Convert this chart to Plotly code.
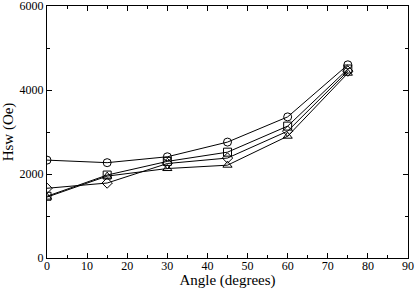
import plotly.graph_objects as go

angles = [0, 15, 30, 45, 60, 75]
circle_vals = [2330, 2270, 2410, 2760, 3360, 4600]
square_vals = [1470, 1975, 2300, 2520, 3140, 4500]
diamond_vals = [1660, 1785, 2250, 2380, 3020, 4450]
triangle_vals = [1450, 1950, 2130, 2210, 2900, 4400]

series = [
    ("circle", circle_vals, "circle-open"),
    ("square", square_vals, "square-open"),
    ("diamond", diamond_vals, "diamond-open"),
    ("triangle", triangle_vals, "triangle-up-open"),
]

fig = go.Figure()
for name, vals, sym in series:
    fig.add_trace(go.Scatter(
        x=angles, y=vals, mode="lines+markers", name=name,
        line=dict(color="black", width=1),
        marker=dict(symbol=sym, size=8, color="black", line=dict(color="black", width=1)),
        showlegend=False,
    ))

font = dict(family="Times New Roman, Liberation Serif, Times, serif", color="black")
axis_common = dict(
    showline=True, linecolor="black", linewidth=1, mirror="ticks",
    ticks="inside", ticklen=5, tickwidth=1, tickcolor="black",
    showgrid=False, zeroline=False, automargin=False,
    tickfont=dict(size=12, **font), ticklabeloverflow="allow",
)
fig.update_xaxes(range=[0, 90], dtick=10, ticklabelstandoff=-3,
                 minor=dict(dtick=5, ticks="inside", ticklen=3, tickcolor="black"),
                 title=dict(text="Angle (degrees)", font=dict(size=15, **font), standoff=2),
                 **axis_common)
fig.update_yaxes(range=[0, 6000], dtick=2000,
                 minor=dict(dtick=1000, ticks="inside", ticklen=3, tickcolor="black"),
                 title=dict(text="Hsw (Oe)", font=dict(size=15, **font), standoff=2),
                 **axis_common)
fig.update_layout(
    width=415, height=289,
    margin=dict(l=47, r=7, t=6, b=31),
    paper_bgcolor="white", plot_bgcolor="white",
    font=font,
)
fig.write_html("out.html", config={"displayModeBar": False},
               post_script="document.body.style.margin='0';document.body.style.padding='0';")
